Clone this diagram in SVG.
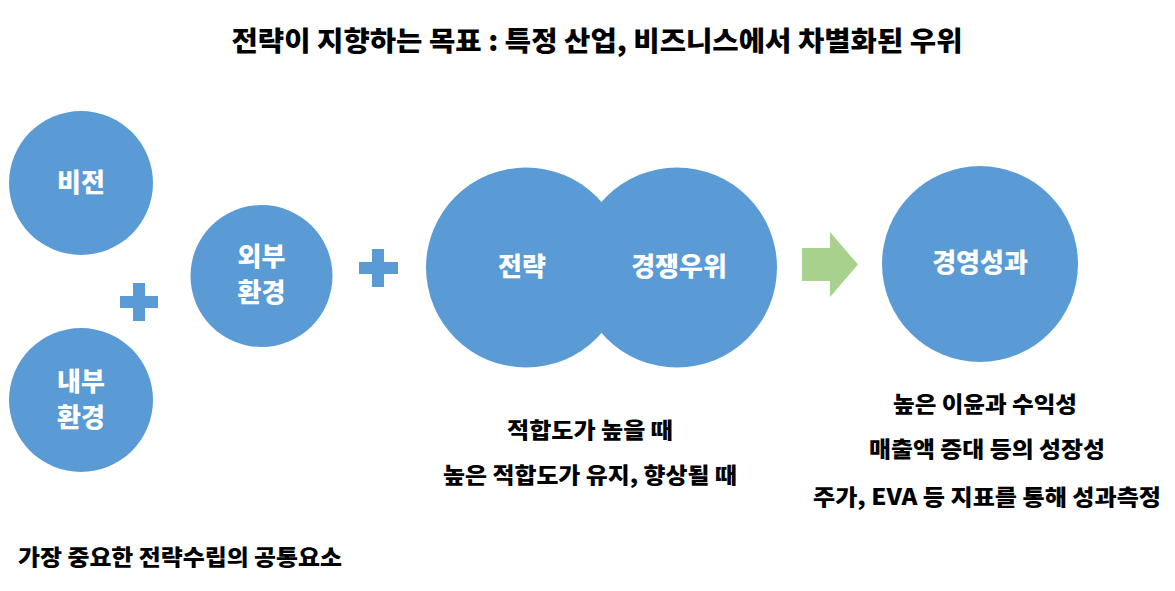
<svg xmlns="http://www.w3.org/2000/svg" width="1175" height="591" viewBox="0 0 1175 591">
<style>
.c{fill:#5B9BD5}
.p{fill:#5B9BD5}
.t{font-family:"Noto Sans CJK KR","Noto Sans",sans-serif;font-weight:900;text-anchor:middle}
.w{fill:#FFFFFF;font-size:26px}
.b{fill:#000000;font-size:22px}
</style>
<rect width="1175" height="591" fill="#FFFFFF"/>
<text class="t b" x="597" y="51" style="font-size:27px" textLength="731" lengthAdjust="spacingAndGlyphs">전략이 지향하는 목표 : 특정 산업, 비즈니스에서 차별화된 우위</text>
<g id="vision">
<circle class="c" cx="81" cy="183" r="72"/>
<text class="t w" x="81" y="192">비전</text>
</g>
<g id="internal">
<circle class="c" cx="81" cy="400" r="72"/>
<text class="t w" x="81" y="391">내부</text>
<text class="t w" x="81" y="427">환경</text>
</g>
<g id="external">
<circle class="c" cx="261.5" cy="276" r="71"/>
<text class="t w" x="261.5" y="266">외부</text>
<text class="t w" x="261.5" y="302">환경</text>
</g>
<g id="strategy">
<circle class="c" cx="526" cy="267.5" r="100"/>
</g>
<g id="advantage">
<circle class="c" cx="677" cy="267.5" r="100"/>
</g>
<text class="t w" x="522" y="276">전략</text>
<text class="t w" x="679" y="276">경쟁우위</text>
<g id="performance">
<circle class="c" cx="980" cy="264" r="98"/>
<text class="t w" x="980" y="272">경영성과</text>
</g>
<g id="connectors">
<path class="p" d="M133 283h12v13h13v12h-13v13h-12v-13h-13v-12h13z"/>
<path class="p" d="M372 249h12v13h14v12h-14v13h-12v-13h-13v-12h13z"/>
<path fill="#A9D18E" d="M802 248h28v-16l28 32.5-28 32.5v-16h-28z"/>
</g>
<g id="labels">
<text class="t b" x="590" y="438" textLength="166" lengthAdjust="spacingAndGlyphs">적합도가 높을 때</text>
<text class="t b" x="590" y="483" textLength="294" lengthAdjust="spacingAndGlyphs">높은 적합도가 유지, 향상될 때</text>
<text class="t b" x="985" y="412" textLength="184" lengthAdjust="spacingAndGlyphs">높은 이윤과 수익성</text>
<text class="t b" x="987" y="457" textLength="236" lengthAdjust="spacingAndGlyphs">매출액 증대 등의 성장성</text>
<text class="t b" x="987" y="505" textLength="348" lengthAdjust="spacingAndGlyphs">주가, EVA 등 지표를 통해 성과측정</text>
<text class="t b" x="180" y="565" textLength="324" lengthAdjust="spacingAndGlyphs">가장 중요한 전략수립의 공통요소</text>
</g>
</svg>
